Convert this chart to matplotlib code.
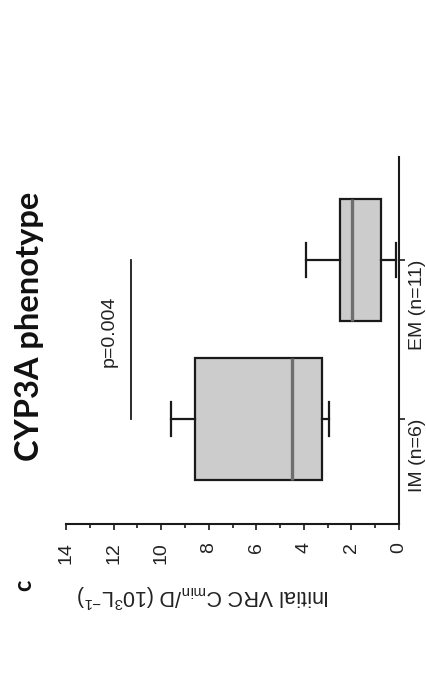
import matplotlib
matplotlib.use("Agg")
import matplotlib.pyplot as plt

plt.rcParams['font.family'] = ['Liberation Sans', 'DejaVu Sans']
plt.rcParams['mathtext.fontset'] = 'custom'
plt.rcParams['mathtext.rm'] = 'Liberation Sans'
plt.rcParams['mathtext.it'] = 'Liberation Sans:italic'

# ---- data ----
categories = ['IM (n=6)', 'EM (n=11)']
whislo = [2.94, 0.13]
q1 = [3.25, 0.77]
med = [4.51, 1.96]
q3 = [8.58, 2.48]
whishi = [9.60, 3.92]
value_ticks = [0, 2, 4, 6, 8, 10, 12, 14]
p_value_text = 'p=0.004'
sig_level = 11.27

W, H = 426, 681
fig = plt.figure(figsize=(W / 100, H / 100), dpi=100)
ax = fig.add_axes([66 / W, 1 - 524 / H, (399 - 66) / W, (524 - 157) / H])

stats = []
for i, c in enumerate(categories):
    stats.append(dict(label=c, whislo=whislo[i], q1=q1[i], med=med[i],
                      q3=q3[i], whishi=whishi[i], fliers=[]))

positions = [1, 2]
ax.bxp(stats, positions=positions, widths=0.767, orientation='horizontal',
       patch_artist=True, showfliers=False, capwidths=0.21,
       boxprops=dict(facecolor='#cccccc', edgecolor='#1a1a1a', linewidth=1.6),
       medianprops=dict(color='#6e6e6e', linewidth=2.4),
       whiskerprops=dict(color='#1a1a1a', linewidth=1.6),
       capprops=dict(color='#1a1a1a', linewidth=1.6))

ax.set_xlim(14, 0)
ax.set_ylim(0.34, 2.648)

for s in ['left', 'top']:
    ax.spines[s].set_visible(False)
for s in ['right', 'bottom']:
    ax.spines[s].set_linewidth(1.5)
    ax.spines[s].set_color('#1a1a1a')

ax.set_xticks(value_ticks)
ax.set_xticks([1, 3, 5, 7, 9, 11, 13], minor=True)
ax.set_xticklabels([str(v) for v in value_ticks], rotation=90, fontsize=14,
                   color='#222222')
ax.tick_params(axis='x', which='major', direction='out', length=4, width=1.2,
               pad=9, colors='#1a1a1a', labelcolor='#222222')
ax.tick_params(axis='x', which='minor', direction='out', length=3, width=1.2,
               colors='#1a1a1a')

ax.yaxis.tick_right()
ax.set_yticks(positions)
ax.set_yticklabels(categories, rotation=90, va='top', fontsize=14,
                   color='#222222')
ax.tick_params(axis='y', which='major', direction='out', length=4, width=1.2,
               pad=3, colors='#1a1a1a', labelcolor='#222222')

# significance line and p value
ax.plot([sig_level, sig_level], [positions[0], positions[1]],
        color='#1a1a1a', linewidth=1.3)
ax.text(12.2, 1.55, p_value_text, rotation=90, ha='center', va='center',
        fontsize=14, color='#222222')

# axis label (value axis), drawn upside down as in the rotated panel
fig.text(203 / W, 1 - 596 / H,
         r'Initial VRC C$_{\mathrm{min}}$/D (10$^{3}$L$^{-1}$)',
         rotation=180, ha='center', va='center', fontsize=15.5, color='#222222')

# title and panel letter
fig.text(30 / W, 1 - 326.5 / H, 'CYP3A phenotype', rotation=90,
         ha='center', va='center', fontsize=23.5, fontweight='bold',
         family=['Lato', 'DejaVu Sans'], color='#111111')
fig.text(24 / W, 1 - 585 / H, 'c', rotation=90, ha='center', va='center',
         fontsize=17, fontweight='bold', family=['Lato', 'DejaVu Sans'],
         color='#111111')

fig.savefig('out.png', dpi=100)
